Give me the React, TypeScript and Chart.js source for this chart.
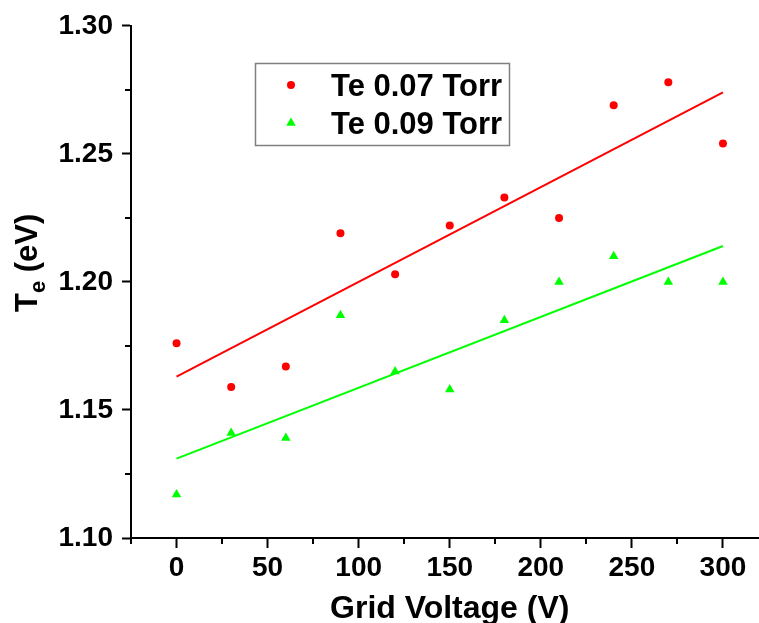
import React, { useEffect, useRef } from 'react';
import { Chart, registerables } from 'chart.js';

Chart.register(...registerables);

const VOLTAGES = [0, 30, 60, 90, 120, 150, 180, 210, 240, 270, 300];
const TE_007 = [1.176, 1.159, 1.167, 1.219, 1.203, 1.222, 1.233, 1.225, 1.269, 1.278, 1.254];
const TE_009 = [1.117, 1.141, 1.139, 1.187, 1.165, 1.158, 1.185, 1.2, 1.21, 1.2, 1.2];
const FIT_X = [0, 300];
const FIT_007 = [1.163, 1.274];
const FIT_009 = [1.131, 1.214];
const LEGEND_LABELS = ['Te 0.07 Torr', 'Te 0.09 Torr'];
const X_TITLE = 'Grid Voltage (V)';
const Y_TITLE_MAIN = 'T';
const Y_TITLE_SUB = 'e';
const Y_TITLE_REST = ' (eV)';
const X_TICKS = [0, 50, 100, 150, 200, 250, 300];
const Y_TICKS = [1.1, 1.15, 1.2, 1.25, 1.3];
const X_MINOR = [-25, 25, 75, 125, 175, 225, 275, 325];
const Y_MINOR = [1.125, 1.175, 1.225, 1.275];

const FONT = '"Liberation Sans", Arial, Helvetica, sans-serif';
const RED = '#ff0000';
const GREEN = '#00ff00';
const W = 774;
const H = 623;

const decorPlugin = {
  id: 'decor',
  afterDraw(chart: any) {
    const ctx = chart.ctx as CanvasRenderingContext2D;
    const xs = chart.scales.x;
    const ys = chart.scales.y;
    const area = chart.chartArea;
    ctx.save();
    ctx.strokeStyle = '#000';
    ctx.lineWidth = 2;
    X_MINOR.forEach((v) => {
      const px = Math.round(xs.getPixelForValue(v));
      ctx.beginPath();
      ctx.moveTo(px, area.bottom);
      ctx.lineTo(px, area.bottom + 6);
      ctx.stroke();
    });
    Y_MINOR.forEach((v) => {
      const py = Math.round(ys.getPixelForValue(v));
      ctx.beginPath();
      ctx.moveTo(area.left, py);
      ctx.lineTo(area.left - 6, py);
      ctx.stroke();
    });

    ctx.fillStyle = '#000';
    ctx.font = `bold 32px ${FONT}`;
    ctx.textAlign = 'center';
    ctx.textBaseline = 'alphabetic';
    ctx.fillText(X_TITLE, (area.left + area.right) / 2, 618);

    ctx.save();
    ctx.translate(37, 312);
    ctx.rotate(-Math.PI / 2);
    ctx.textAlign = 'left';
    ctx.font = `bold 31px ${FONT}`;
    ctx.fillText(Y_TITLE_MAIN, 0, 0);
    const wT = ctx.measureText(Y_TITLE_MAIN).width;
    ctx.font = `bold 22px ${FONT}`;
    ctx.fillText(Y_TITLE_SUB, wT, 8);
    const wE = ctx.measureText(Y_TITLE_SUB).width;
    ctx.font = `bold 31px ${FONT}`;
    ctx.fillText(Y_TITLE_REST, wT + wE, 0);
    ctx.restore();

    ctx.strokeStyle = '#808080';
    ctx.lineWidth = 1.5;
    ctx.strokeRect(255.5, 63.5, 254, 82);
    ctx.fillStyle = RED;
    ctx.beginPath();
    ctx.arc(291, 85, 4, 0, Math.PI * 2);
    ctx.fill();
    ctx.fillStyle = GREEN;
    const r = 5.5;
    const cx = 291;
    const cy = 123;
    ctx.beginPath();
    for (let i = 0; i < 3; i++) {
      const a = (i * 2 * Math.PI) / 3;
      const px = cx + Math.sin(a) * r;
      const py = cy - Math.cos(a) * r;
      if (i === 0) ctx.moveTo(px, py);
      else ctx.lineTo(px, py);
    }
    ctx.closePath();
    ctx.fill();
    ctx.fillStyle = '#000';
    ctx.font = `bold 31px ${FONT}`;
    ctx.textAlign = 'left';
    ctx.textBaseline = 'alphabetic';
    ctx.fillText(LEGEND_LABELS[0], 331, 96);
    ctx.fillText(LEGEND_LABELS[1], 331, 134);
    ctx.restore();
  },
};

export default function App() {
  const ref = useRef<HTMLCanvasElement | null>(null);

  useEffect(() => {
    document.body.style.margin = '0';
    document.body.style.overflow = 'hidden';
    document.documentElement.style.overflow = 'hidden';
    const canvas = ref.current;
    if (!canvas) return;

    const pts = (xs: number[], ys: number[]) => xs.map((x, i) => ({ x, y: ys[i] }));

    const chart = new Chart(canvas, {
      type: 'scatter',
      data: {
        datasets: [
          {
            label: LEGEND_LABELS[0],
            data: pts(VOLTAGES, TE_007),
            pointStyle: 'circle',
            pointRadius: 4,
            pointBackgroundColor: RED,
            pointBorderWidth: 0,
            backgroundColor: RED,
            borderColor: RED,
            showLine: false,
          },
          {
            label: LEGEND_LABELS[1],
            data: pts(VOLTAGES, TE_009),
            pointStyle: 'triangle',
            pointRadius: 5.5,
            pointBackgroundColor: GREEN,
            pointBorderWidth: 0,
            backgroundColor: GREEN,
            borderColor: GREEN,
            showLine: false,
          },
          {
            label: 'fit 0.07',
            data: pts(FIT_X, FIT_007),
            showLine: true,
            borderColor: RED,
            borderWidth: 2,
            pointRadius: 0,
            fill: false,
          },
          {
            label: 'fit 0.09',
            data: pts(FIT_X, FIT_009),
            showLine: true,
            borderColor: GREEN,
            borderWidth: 2,
            pointRadius: 0,
            fill: false,
          },
        ],
      },
      options: {
        responsive: false,
        devicePixelRatio: 1,
        animation: false,
        layout: { padding: { top: 25, right: 2, left: 0, bottom: 0 } },
        plugins: {
          legend: { display: false },
          tooltip: { enabled: false },
        },
        scales: {
          x: {
            type: 'linear',
            min: -25,
            max: 325,
            afterBuildTicks: (s: any) => {
              s.ticks = X_TICKS.map((v) => ({ value: v }));
            },
            afterFit: (s: any) => {
              s.height = 85;
            },
            ticks: {
              color: '#000',
              padding: 3,
              font: { family: FONT, size: 28, weight: 'bold' },
              callback: (v: any) => String(v),
            },
            grid: {
              display: true,
              drawOnChartArea: false,
              drawTicks: true,
              tickLength: 10,
              tickWidth: 2,
              tickColor: '#000',
              color: '#000',
            },
            border: { display: true, color: '#000', width: 2 },
          },
          y: {
            type: 'linear',
            min: 1.1,
            max: 1.3,
            afterBuildTicks: (s: any) => {
              s.ticks = Y_TICKS.map((v) => ({ value: v }));
            },
            afterFit: (s: any) => {
              s.width = 131;
            },
            ticks: {
              color: '#000',
              padding: 9,
              font: { family: FONT, size: 28, weight: 'bold' },
              callback: (v: any) => Number(v).toFixed(2),
            },
            grid: {
              display: true,
              drawOnChartArea: false,
              drawTicks: true,
              tickLength: 9,
              tickWidth: 2,
              tickColor: '#000',
              color: '#000',
            },
            border: { display: true, color: '#000', width: 2 },
          },
        },
      },
      plugins: [decorPlugin],
    } as any);

    return () => chart.destroy();
  }, []);

  return (
    <div style={{ width: W, height: H, position: 'relative' }}>
      <canvas ref={ref} width={W} height={H} style={{ display: 'block', width: W, height: H }} />
    </div>
  );
}
